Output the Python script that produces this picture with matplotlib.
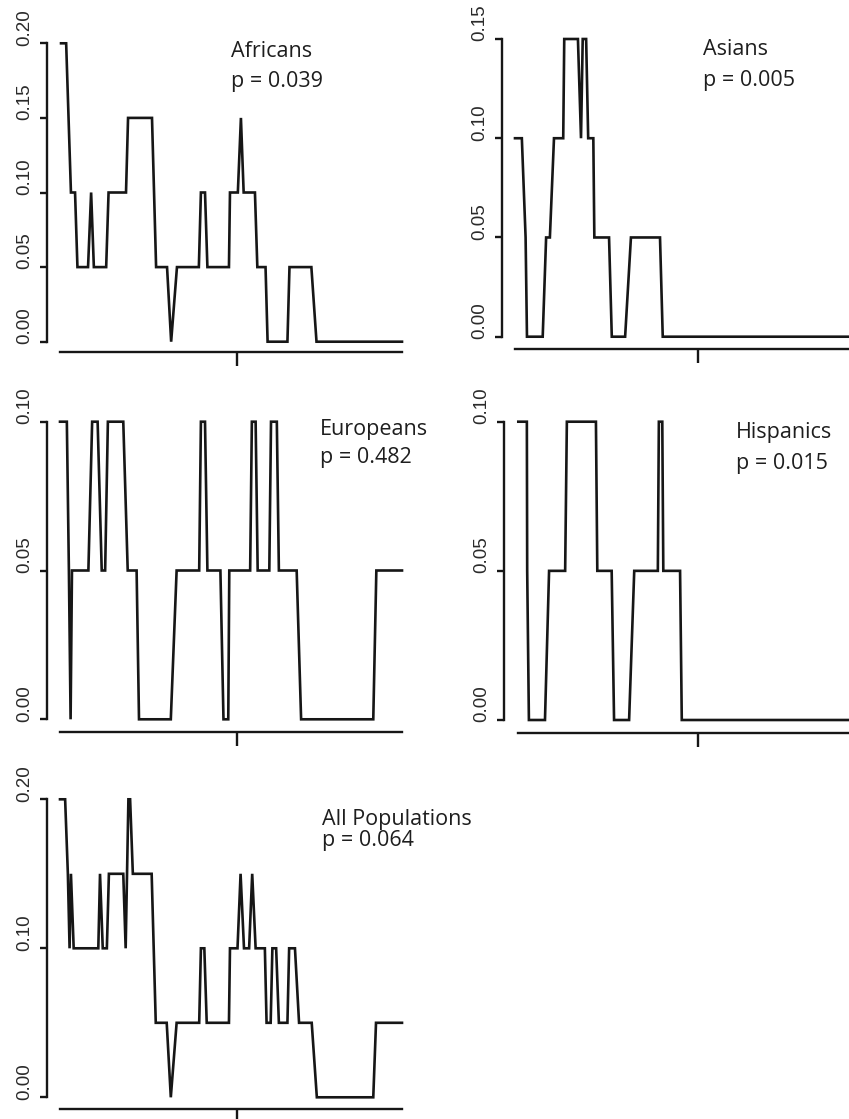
import matplotlib
matplotlib.use("Agg")
import matplotlib.pyplot as plt
import matplotlib.transforms as mtransforms

# ====== data ======
afr_x = [0.3, 1.8, 2.5, 3.2, 4.4, 5.1, 8.2, 9.1, 9.9, 13.5, 14.2, 19.3, 19.9, 26.9, 28.1, 31.3, 32.5, 34.2,
         40.6, 41.2, 42.4, 43.1, 49.4, 49.7, 52.0, 52.9, 53.7, 57.0, 57.7, 60.1, 60.7, 66.5, 67.1, 73.5, 75.0, 100.0]
afr_y = [0.20, 0.20, 0.15, 0.10, 0.10, 0.05, 0.05, 0.10, 0.05, 0.05, 0.10, 0.10, 0.15, 0.15, 0.05, 0.05, 0.00, 0.05,
         0.05, 0.10, 0.10, 0.05, 0.05, 0.10, 0.10, 0.15, 0.10, 0.10, 0.05, 0.05, 0.00, 0.00, 0.05, 0.05, 0.00, 0.00]

asi_x = [0.0, 2.0, 3.1, 3.5, 8.1, 9.1, 10.2, 11.4, 14.1, 14.4, 18.4, 19.3, 19.8, 20.8, 21.4, 22.9, 23.2, 27.5,
         28.3, 32.2, 33.9, 42.4, 43.2, 100.0]
asi_y = [0.10, 0.10, 0.05, 0.00, 0.00, 0.05, 0.05, 0.10, 0.10, 0.15, 0.15, 0.10, 0.15, 0.15, 0.10, 0.10, 0.05, 0.05,
         0.00, 0.00, 0.05, 0.05, 0.00, 0.00]

eur_x = [0.0, 2.0, 2.6, 3.1, 3.5, 8.3, 9.4, 11.0, 12.2, 13.2, 14.0, 18.5, 19.8, 22.4, 23.1, 32.4, 34.1, 40.7, 41.2,
         42.4, 43.1, 46.9, 47.8, 49.2, 49.5, 55.6, 56.1, 57.2, 57.8, 61.2, 61.7, 63.4, 64.0, 69.2, 70.5, 91.6, 92.5, 100.0]
eur_y = [0.10, 0.10, 0.05, 0.00, 0.05, 0.05, 0.10, 0.10, 0.05, 0.05, 0.10, 0.10, 0.05, 0.05, 0.00, 0.00, 0.05, 0.05, 0.10,
         0.10, 0.05, 0.05, 0.00, 0.00, 0.05, 0.05, 0.10, 0.10, 0.05, 0.05, 0.10, 0.10, 0.05, 0.05, 0.00, 0.00, 0.05, 0.05]

his_x = [0.0, 2.5, 2.6, 3.1, 7.8, 9.0, 13.7, 14.2, 22.7, 23.1, 27.3, 28.0, 32.4, 33.9, 40.8, 41.1, 42.1, 42.4,
         47.3, 47.8, 100.0]
his_y = [0.10, 0.10, 0.05, 0.00, 0.00, 0.05, 0.05, 0.10, 0.10, 0.05, 0.05, 0.00, 0.00, 0.05, 0.05, 0.10, 0.10, 0.05,
         0.05, 0.00, 0.00]

all_x = [0.0, 1.5, 2.3, 2.8, 3.2, 4.0, 11.2, 11.7, 12.5, 13.7, 14.3, 18.5, 19.2, 20.0, 20.5, 21.3, 26.8, 28.0,
         31.2, 32.4, 34.1, 40.7, 41.2, 42.2, 42.9, 49.4, 49.7, 51.9, 52.8, 53.8, 55.3, 56.2, 57.2, 59.9, 60.4,
         61.6, 62.1, 63.2, 64.0, 66.5, 67.0, 68.7, 69.9, 73.6, 75.1, 91.6, 92.4, 100.0]
all_y = [0.20, 0.20, 0.15, 0.10, 0.15, 0.10, 0.10, 0.15, 0.10, 0.10, 0.15, 0.15, 0.10, 0.20, 0.20, 0.15, 0.15, 0.05,
         0.05, 0.00, 0.05, 0.05, 0.10, 0.10, 0.05, 0.05, 0.10, 0.10, 0.15, 0.10, 0.10, 0.15, 0.10, 0.10, 0.05,
         0.05, 0.10, 0.10, 0.05, 0.05, 0.10, 0.10, 0.05, 0.05, 0.00, 0.00, 0.05, 0.05]

names = ["Africans", "Asians", "Europeans", "Hispanics", "All Populations"]
p_values = ["0.039", "0.005", "0.482", "0.015", "0.064"]
y_ticks = [[0.00, 0.05, 0.10, 0.15, 0.20], [0.00, 0.05, 0.10, 0.15], [0.00, 0.05, 0.10],
           [0.00, 0.05, 0.10], [0.00, 0.10, 0.20]]
tick_labels = [["%.2f" % v for v in t] for t in y_ticks]

# ====== layout (pixels in the 849x1119 picture) ======
W, H, DPI = 849, 1119, 100
PX_PER_UNIT = 3.42
# y-axis x, x of data 0, x-axis y, y of value 0, y of top tick, right edge
geom = [
    (46.7, 60.0, 352.3, 341.7, 43.3, 420),
    (501.7, 515.0, 349.3, 336.7, 39.0, 880),
    (46.7, 60.0, 731.7, 719.3, 421.7, 420),
    (504.0, 518.3, 732.7, 720.0, 421.7, 880),
    (46.7, 60.0, 1109.3, 1097.3, 799.3, 420),
]
x_tick_pos = [51.8, 53.4, 51.8, 52.5, 51.8]
label_pos = [(231, 57.3, 86.7), (702.7, 55, 86), (320, 435, 463.3), (736, 438.3, 469.3), (321.7, 825, 846)]

series = [(afr_x, afr_y), (asi_x, asi_y), (eur_x, eur_y), (his_x, his_y), (all_x, all_y)]

LINE_COL = "#161616"
fig = plt.figure(figsize=(W / DPI, H / DPI), dpi=DPI)
fig.patch.set_facecolor("white")

for i, (x, y) in enumerate(series):
    ylx, x0, axy, y0, ytp, right = geom[i]
    top = ytp - 20
    ax = fig.add_axes([ylx / W, 1 - axy / H, (right - ylx) / W, (axy - top) / H])
    ax.patch.set_alpha(0)

    ytop = y_ticks[i][-1]
    s = ytop / (y0 - ytp)
    ax.set_xlim((ylx - x0) / PX_PER_UNIT, (right - x0) / PX_PER_UNIT)
    ax.set_ylim((y0 - axy) * s, (y0 - top) * s)

    ax.plot(x, y, color=LINE_COL, lw=1.9, solid_joinstyle="miter", clip_on=False)

    for side in ["top", "right"]:
        ax.spines[side].set_visible(False)
    ax.spines["left"].set_bounds(0, ytop)
    ax.spines["bottom"].set_bounds(0, 100)
    for side in ["left", "bottom"]:
        ax.spines[side].set_linewidth(1.7)
        ax.spines[side].set_color(LINE_COL)

    ax.set_xticks([x_tick_pos[i]])
    ax.set_xticklabels([])
    ax.tick_params(axis="x", length=10, width=1.7, color=LINE_COL, direction="out")

    ax.set_yticks(y_ticks[i])
    ax.set_yticklabels(tick_labels[i], rotation=90, va="center",
                       fontfamily=["Liberation Sans Narrow", "Liberation Sans"], fontsize=13.5, color="#2a2a2a")
    ax.tick_params(axis="y", length=5, width=1.7, color=LINE_COL, pad=5)
    # labels sit a little above their ticks in the original
    shift = mtransforms.ScaledTranslation(0, 16 / DPI, fig.dpi_scale_trans)
    for t in ax.yaxis.get_major_ticks():
        t.label1.set_transform(t.label1.get_transform() + shift)

    lx, ly1, ly2 = label_pos[i]
    fig.text(lx / W, 1 - ly1 / H, names[i], fontsize=15.5, family="Open Sans", color="#1e1e1e", va="baseline")
    fig.text(lx / W, 1 - ly2 / H, "p = " + p_values[i], fontsize=15.5, family="Open Sans", color="#1e1e1e",
             va="baseline")

plt.savefig("out.png", dpi=DPI)
